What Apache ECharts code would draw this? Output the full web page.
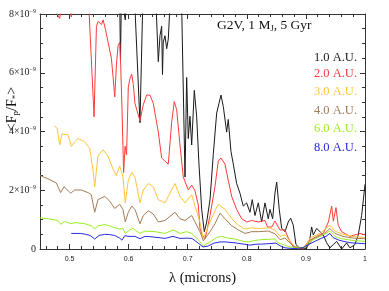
<!DOCTYPE html>
<html><head><meta charset="utf-8">
<script src="https://cdn.jsdelivr.net/npm/echarts@6/dist/echarts.min.js"></script>
<style>html,body{margin:0;padding:0;background:#fff}#c{width:389px;height:291px}</style>
</head><body><div id="c"></div>
<script>
// wavelength (microns), <Fp/F*> in units of 1e-9
const au1 = [[0.45,9.5],[0.58,9.2],[0.5849,8.5],[0.5862,6.4],[0.5878,8.6],[0.5943,7.8],[0.600,9.2],[0.6107,8.2],[0.6192,4.3],[0.6237,8.2],[0.630,9.0],[0.645,9.0],[0.6502,6.38],[0.653,7.26],[0.6559,7.58],[0.6573,5.94],[0.6586,7.04],[0.6615,7.26],[0.6644,6.82],[0.6671,7.15],[0.670,8.3],[0.680,9.0],[0.6898,8.2],[0.6954,2.45],[0.6982,5.84],[0.7009,3.76],[0.7038,4.52],[0.7067,3.54],[0.7111,5.40],[0.7151,4.52],[0.719,2.89],[0.7236,1.35],[0.728,0.59],[0.7321,0.92],[0.7377,1.68],[0.7432,3.21],[0.749,4.63],[0.7529,4.96],[0.7563,5.24],[0.7602,4.85],[0.7659,3.98],[0.7686,4.41],[0.7732,3.32],[0.7771,2.89],[0.7828,2.23],[0.7884,1.90],[0.794,1.46],[0.7997,1.57],[0.8053,1.25],[0.8092,1.68],[0.8138,1.14],[0.8194,1.57],[0.8251,0.92],[0.8307,1.57],[0.8363,1.03],[0.8392,1.35],[0.8437,1.03],[0.8476,1.90],[0.8505,2.28],[0.8549,1.35],[0.859,0.70],[0.8646,0.59],[0.8701,0.92],[0.8742,1.05],[0.8786,0.81],[0.8832,0.15],[0.8899,0.02],[0.9013,0.02],[0.9069,0.37],[0.9097,0.75],[0.9124,0.48],[0.9182,0.70],[0.9238,0.59],[0.9294,0.48],[0.9351,0.21],[0.9407,0.04],[0.9463,0.15],[0.952,0.26],[0.9605,0.0],[0.9689,0.21],[0.9745,0.04],[0.983,0.15],[0.9886,0.48],[0.9943,1.14],[1.0,2.2]];
const au2 = [[0.45,8.6],[0.465,8.5],[0.4833,7.85],[0.4872,8.4],[0.497,8.5],[0.503,7.9],[0.508,8.5],[0.52,8.8],[0.533,8.1],[0.5415,4.5],[0.5455,7.58],[0.5484,7.75],[0.554,7.64],[0.5568,7.8],[0.5607,7.48],[0.5652,7.04],[0.5708,6.49],[0.5737,5.84],[0.5765,5.18],[0.5793,6.27],[0.5822,6.93],[0.585,7.04],[0.5865,6.3],[0.589,4.6],[0.5915,2.6],[0.594,3.5],[0.5965,3.2],[0.5994,5.51],[0.6023,5.8],[0.6052,5.95],[0.6079,5.6],[0.6107,4.96],[0.6192,4.36],[0.6248,4.91],[0.6305,5.24],[0.6361,5.24],[0.6417,4.96],[0.6502,3.98],[0.6559,3.10],[0.6615,2.99],[0.6671,2.89],[0.6728,4.30],[0.6772,5.02],[0.6813,4.74],[0.6869,3.54],[0.6925,2.45],[0.7009,2.01],[0.7067,2.17],[0.712,2.0],[0.7179,1.5],[0.7207,0.70],[0.7246,0.48],[0.7292,0.35],[0.7321,0.59],[0.7377,1.14],[0.7461,2.12],[0.7517,2.99],[0.7563,3.10],[0.763,2.89],[0.7686,2.34],[0.7744,1.79],[0.7828,1.35],[0.7913,1.03],[0.7997,0.92],[0.8082,0.97],[0.8194,0.92],[0.8307,0.97],[0.835,0.75],[0.8425,0.75],[0.8476,0.95],[0.8561,0.65],[0.8646,0.65],[0.8702,0.37],[0.8787,0.07],[0.8956,0.02],[0.9041,0.26],[0.9183,0.43],[0.9295,0.53],[0.938,0.92],[0.9436,1.46],[0.9464,0.95],[0.9509,1.41],[0.9547,0.81],[0.9605,0.59],[0.9746,0.43],[0.9915,0.53],[1.0,0.48]];
const au3 = [[0.4749,4.20],[0.4793,4.09],[0.4833,3.54],[0.4872,3.92],[0.4974,3.89],[0.503,3.49],[0.5087,3.65],[0.5143,3.76],[0.5256,3.65],[0.5341,3.43],[0.5397,2.67],[0.5426,2.12],[0.5481,3.16],[0.5566,3.38],[0.5651,3.16],[0.5735,2.72],[0.5791,2.50],[0.5849,2.83],[0.5904,2.45],[0.5943,1.57],[0.5994,2.34],[0.6052,2.61],[0.6107,2.45],[0.6192,1.57],[0.6248,2.01],[0.6333,2.23],[0.6417,2.12],[0.6502,1.68],[0.6615,1.57],[0.6784,2.23],[0.6869,1.79],[0.6954,1.57],[0.7067,1.85],[0.7123,1.46],[0.7207,0.92],[0.7263,0.35],[0.7377,0.92],[0.7461,1.30],[0.7517,1.52],[0.763,1.35],[0.7744,1.03],[0.7855,0.81],[0.7969,0.68],[0.8082,0.72],[0.8222,0.70],[0.838,0.72],[0.8476,0.65],[0.8561,0.43],[0.8646,0.48],[0.873,0.26],[0.8815,0.07],[0.8984,0.04],[0.9069,0.37],[0.9238,0.53],[0.9407,0.81],[0.9491,0.61],[0.9627,0.50],[0.9796,0.43],[1.0,0.39]];
const au4 = [[0.45,2.50],[0.4635,2.39],[0.4776,2.25],[0.485,1.92],[0.4906,2.12],[0.502,1.90],[0.5087,2.01],[0.5199,2.01],[0.5312,1.92],[0.5368,1.85],[0.5426,1.25],[0.5481,1.68],[0.5595,1.79],[0.5679,1.63],[0.5764,1.38],[0.5849,1.52],[0.5904,1.35],[0.5943,0.92],[0.5994,1.25],[0.6052,1.46],[0.6107,1.35],[0.6192,0.86],[0.6248,1.14],[0.6333,1.30],[0.6417,1.19],[0.6502,0.92],[0.6615,0.97],[0.6784,1.25],[0.6869,1.03],[0.6954,0.97],[0.7067,1.14],[0.7123,0.92],[0.7207,0.59],[0.7263,0.28],[0.7377,0.59],[0.7461,0.86],[0.7546,1.22],[0.763,1.03],[0.7744,0.79],[0.7855,0.65],[0.7969,0.53],[0.8082,0.59],[0.8194,0.59],[0.8363,0.61],[0.8476,0.52],[0.8561,0.32],[0.8646,0.37],[0.873,0.21],[0.8815,0.07],[0.895,0.04],[0.9035,0.10],[0.9119,0.35],[0.9289,0.48],[0.9407,0.70],[0.9491,0.53],[0.9627,0.43],[0.9796,0.37],[1.0,0.35]];
const au6 = [[0.45,1.06],[0.4635,1.03],[0.4805,0.97],[0.485,0.84],[0.4918,0.94],[0.502,0.86],[0.5087,0.90],[0.5256,0.86],[0.5368,0.79],[0.5426,0.68],[0.5481,0.79],[0.5595,0.83],[0.5679,0.79],[0.5764,0.72],[0.5849,0.68],[0.5904,0.70],[0.5943,0.53],[0.6018,0.65],[0.6074,0.70],[0.6107,0.65],[0.6192,0.53],[0.6277,0.61],[0.6446,0.59],[0.6615,0.53],[0.6756,0.65],[0.6869,0.53],[0.6982,0.59],[0.7067,0.53],[0.7179,0.32],[0.7263,0.10],[0.7377,0.24],[0.749,0.39],[0.7574,0.43],[0.7686,0.37],[0.780,0.34],[0.794,0.26],[0.8025,0.24],[0.8138,0.29],[0.8251,0.32],[0.8476,0.34],[0.8527,0.21],[0.8646,0.13],[0.873,0.07],[0.8844,0.04],[0.8984,0.06],[0.9069,0.26],[0.9238,0.43],[0.9407,0.61],[0.9491,0.43],[0.9605,0.35],[0.9796,0.29],[1.0,0.26]];
const au8 = [[0.503,0.53],[0.519,0.53],[0.527,0.50],[0.535,0.46],[0.5425,0.34],[0.550,0.46],[0.5595,0.50],[0.568,0.49],[0.5765,0.46],[0.585,0.37],[0.5887,0.30],[0.5933,0.45],[0.6006,0.43],[0.6107,0.43],[0.6192,0.35],[0.6277,0.43],[0.636,0.42],[0.6497,0.39],[0.6615,0.36],[0.675,0.43],[0.6869,0.36],[0.6987,0.37],[0.7072,0.36],[0.7173,0.21],[0.7258,0.07],[0.7343,0.10],[0.7444,0.20],[0.7546,0.24],[0.7647,0.24],[0.780,0.21],[0.7969,0.16],[0.8053,0.13],[0.8138,0.16],[0.829,0.17],[0.8493,0.20],[0.8561,0.11],[0.8646,0.04],[0.8747,0.02],[0.8849,0.02],[0.895,0.05],[0.9052,0.16],[0.9153,0.26],[0.9255,0.36],[0.934,0.43],[0.9407,0.53],[0.9458,0.39],[0.9559,0.30],[0.9661,0.25],[0.9762,0.21],[1.0,0.18]];

const seriesNames = ['1.0 A.U.','2.0 A.U.','3.0 A.U.','4.0 A.U.','6.0 A.U.','8.0 A.U.'];
const seriesData = [au1, au2, au3, au4, au6, au8];
const seriesColors = ['#1a1a1a','#ff3a3a','#ffc43a','#a47c55','#98ee22','#2a2ae0'];
const xMajor = [0.5,0.6,0.7,0.8,0.9,1.0];
const xMinor = [];
for (let i = 46; i <= 100; i += 2) { if (i % 10 !== 0) xMinor.push(i / 100); }

const chart = echarts.init(document.getElementById('c'), null, {renderer: 'canvas'});
const axisCol = '#333';
const SERIF = 'Liberation Serif';
function xAx(pos, major, showLabel) {
  return {
    type: 'value', min: 0.45, max: 1.0, position: pos,
    axisLine: {show: major, onZero: false, lineStyle: {color: axisCol, width: 1}},
    axisTick: {show: true, inside: true, length: major ? 5 : 3, customValues: major ? xMajor : xMinor, lineStyle: {color: axisCol, width: 1}},
    axisLabel: {show: showLabel, customValues: xMajor, fontSize: 7, color: '#222', fontFamily: 'Liberation Sans', margin: 7},
    splitLine: {show: false}
  };
}
const xAxes = [xAx('bottom', true, true), xAx('bottom', false, false), xAx('top', true, false), xAx('top', false, false)];
xAxes[0].name = 'λ (microns)';
xAxes[0].nameLocation = 'middle';
xAxes[0].nameGap = 22;
xAxes[0].nameTextStyle = {fontFamily: SERIF, fontSize: 14.5, color: '#111'};

function yAx(pos, showLabel) {
  return {
    type: 'value', min: 0, max: 8, interval: 2, position: pos,
    axisLine: {show: true, onZero: false, lineStyle: {color: axisCol, width: 1}},
    axisTick: {show: true, inside: true, length: 5, lineStyle: {color: axisCol}},
    minorTick: {show: true, splitNumber: 4, length: 3, lineStyle: {color: axisCol}},
    axisLabel: {show: showLabel, margin: 4,
      formatter: v => v === 0 ? '{m|0}' : '{m|' + v + '×10}{s|−9}',
      rich: {m: {fontFamily: SERIF, fontSize: 10, color: '#222', lineHeight: 12},
             s: {fontFamily: SERIF, fontSize: 6, color: '#222', verticalAlign: 'top', lineHeight: 12}}},
    splitLine: {show: false}, minorSplitLine: {show: false}
  };
}

const series = seriesData.map((d, i) => ({
  name: seriesNames[i], type: 'line', data: d, xAxisIndex: 0, yAxisIndex: 0,
  showSymbol: false, symbol: 'none', clip: true, smooth: false,
  lineStyle: {color: seriesColors[i], width: 1}, itemStyle: {color: seriesColors[i]},
  z: 2 + i
}));

const legendTops = [58, 74, 92, 111, 129, 148];
const graphics = seriesNames.map((n, i) => ({
  type: 'text', x: 357, y: legendTops[i],
  style: {text: n, fill: seriesColors[i], fontFamily: SERIF, fontSize: 12.5, align: 'right', verticalAlign: 'middle'}
}));
graphics.push({
  type: 'text', x: 217, y: 25,
  style: {text: '{a|G2V, 1 M}{b|J}{a|, 5 Gyr}', align: 'left', verticalAlign: 'middle',
    rich: {a: {fontFamily: SERIF, fontSize: 13.5, fill: '#111', lineHeight: 16},
           b: {fontFamily: SERIF, fontSize: 8.5, fill: '#111', lineHeight: 16, verticalAlign: 'bottom'}}}
});
graphics.push({
  type: 'text', x: 12, y: 109, rotation: Math.PI / 2,
  style: {text: '{a|<F}{b|p}{a|/F}{b|*}{a|>}', align: 'center', verticalAlign: 'middle',
    rich: {a: {fontFamily: SERIF, fontSize: 14, fill: '#111', lineHeight: 17},
           b: {fontFamily: SERIF, fontSize: 9, fill: '#111', lineHeight: 17, verticalAlign: 'bottom'}}}
});

chart.setOption({
  animation: false,
  backgroundColor: '#fff',
  grid: {left: 40, right: 24, top: 14, bottom: 33, containLabel: false},
  xAxis: xAxes,
  yAxis: [yAx('left', true), yAx('right', false)],
  series: series,
  graphic: graphics
});
</script></body></html>
